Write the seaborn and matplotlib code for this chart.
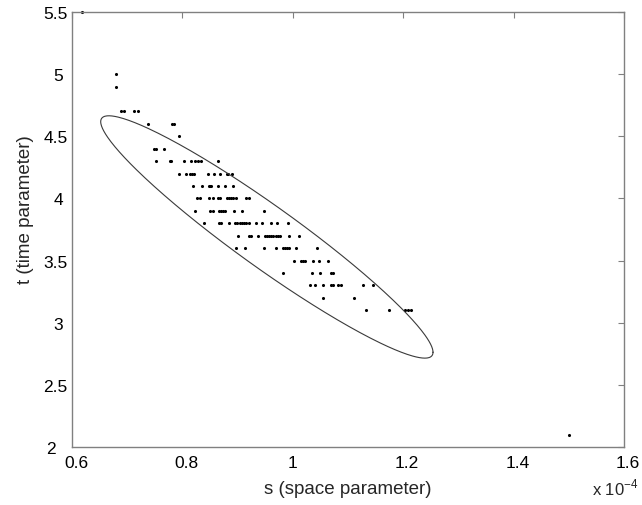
import numpy as np
import pandas as pd
import seaborn as sns
import matplotlib
matplotlib.use("Agg")
import matplotlib.pyplot as plt
from matplotlib.transforms import ScaledTranslation

# s values are in units of 1e-4 (axis multiplier shown as text)
s_vals = [0.619,
          0.680, 0.680,
          0.689, 0.694, 0.712, 0.720,
          0.737, 0.781, 0.785,
          0.794,
          0.749, 0.753, 0.767,
          0.752, 0.778, 0.780, 0.802, 0.815, 0.822, 0.828, 0.833, 0.865,
          0.793, 0.807, 0.814, 0.818, 0.821, 0.846, 0.857, 0.869, 0.880, 0.883, 0.890,
          0.820, 0.835, 0.848, 0.850, 0.852, 0.865, 0.877, 0.892,
          0.827, 0.832, 0.848, 0.855, 0.865, 0.869, 0.880, 0.884, 0.888, 0.892, 0.898, 0.915, 0.920,
          0.822, 0.850, 0.855, 0.866, 0.870, 0.874, 0.878, 0.894, 0.908, 0.948,
          0.840, 0.867, 0.870, 0.885, 0.895, 0.899, 0.904, 0.908, 0.912, 0.916, 0.920, 0.933, 0.945, 0.960, 0.972, 0.991,
          0.900, 0.921, 0.924, 0.937, 0.949, 0.953, 0.957, 0.961, 0.965, 0.969, 0.973, 0.977, 0.993, 1.012,
          0.898, 0.913, 0.948, 0.970, 0.983, 0.986, 0.990, 0.994, 1.005, 1.043,
          1.002, 1.015, 1.019, 1.022, 1.036, 1.047, 1.063,
          0.982, 1.035, 1.050, 1.070, 1.072,
          1.032, 1.041, 1.055, 1.069, 1.073, 1.082, 1.087, 1.128, 1.145,
          1.055, 1.110,
          1.133, 1.175, 1.203, 1.209, 1.215,
          1.500]

t_vals = [5.5,
          5.0, 4.9,
          4.7, 4.7, 4.7, 4.7,
          4.6, 4.6, 4.6,
          4.5,
          4.4, 4.4, 4.4,
          4.3, 4.3, 4.3, 4.3, 4.3, 4.3, 4.3, 4.3, 4.3,
          4.2, 4.2, 4.2, 4.2, 4.2, 4.2, 4.2, 4.2, 4.2, 4.2, 4.2,
          4.1, 4.1, 4.1, 4.1, 4.1, 4.1, 4.1, 4.1,
          4.0, 4.0, 4.0, 4.0, 4.0, 4.0, 4.0, 4.0, 4.0, 4.0, 4.0, 4.0, 4.0,
          3.9, 3.9, 3.9, 3.9, 3.9, 3.9, 3.9, 3.9, 3.9, 3.9,
          3.8, 3.8, 3.8, 3.8, 3.8, 3.8, 3.8, 3.8, 3.8, 3.8, 3.8, 3.8, 3.8, 3.8, 3.8, 3.8,
          3.7, 3.7, 3.7, 3.7, 3.7, 3.7, 3.7, 3.7, 3.7, 3.7, 3.7, 3.7, 3.7, 3.7,
          3.6, 3.6, 3.6, 3.6, 3.6, 3.6, 3.6, 3.6, 3.6, 3.6,
          3.5, 3.5, 3.5, 3.5, 3.5, 3.5, 3.5,
          3.4, 3.4, 3.4, 3.4, 3.4,
          3.3, 3.3, 3.3, 3.3, 3.3, 3.3, 3.3, 3.3, 3.3,
          3.2, 3.2,
          3.1, 3.1, 3.1, 3.1, 3.1,
          2.1]

# confidence ellipse: centre, spreads, correlation
ell_center = (0.953, 3.69)
ell_sd = (0.301, 0.975)
ell_rho = -0.951

x_ticks = [0.6, 0.8, 1.0, 1.2, 1.4, 1.6]
x_ticklabels = ["0.6", "0.8", "1", "1.2", "1.4", "1.6"]
y_ticks = [2, 2.5, 3, 3.5, 4, 4.5, 5, 5.5]
y_ticklabels = ["2", "2.5", "3", "3.5", "4", "4.5", "5", "5.5"]

df = pd.DataFrame({"s": s_vals, "t": t_vals})

sns.set_style("white")
plt.rcParams['font.family'] = ['Liberation Sans', 'DejaVu Sans']

fig = plt.figure(figsize=(6.42, 5.06), dpi=100)
ax = fig.add_axes([72 / 642, 1 - 448 / 506, 552 / 642, 435 / 506])

sns.scatterplot(data=df, x="s", y="t", ax=ax, color="black", s=5,
                linewidth=0, marker="o", clip_on=False)

# ellipse outline
th = np.linspace(0, 2 * np.pi, 400)
es = ell_center[0] + ell_sd[0] * np.cos(th)
et = ell_center[1] + ell_sd[1] * (ell_rho * np.cos(th) + np.sqrt(1 - ell_rho ** 2) * np.sin(th))
ax.plot(es, et, color="#3a3a3a", lw=0.8)

ax.set_xlim(0.6, 1.6)
ax.set_ylim(2, 5.5)
ax.set_xticks(x_ticks)
ax.set_xticklabels(x_ticklabels)
ax.set_yticks(y_ticks)
ax.set_yticklabels(y_ticklabels)
ax.tick_params(direction="in", top=True, right=True, length=4, width=0.8,
               colors="#808080", labelcolor="black", labelsize=12.5)
ax.tick_params(axis="x", pad=6)
ax.tick_params(axis="y", pad=3)

# MATLAB-ish label nudges: decimals sit a bit right, integers a bit left
for lab in ax.get_xticklabels():
    dx = 4 if "." in lab.get_text() else 0
    lab.set_transform(lab.get_transform() + ScaledTranslation(dx / 100, 0, fig.dpi_scale_trans))
for lab in ax.get_yticklabels():
    txt = lab.get_text()
    dx = 0 if "." in txt else -5
    if txt == "2":
        dx = -12
    lab.set_transform(lab.get_transform() + ScaledTranslation(dx / 100, 0, fig.dpi_scale_trans))

for sp in ax.spines.values():
    sp.set_visible(True)
    sp.set_color("#808080")
    sp.set_linewidth(1.0)

ax.set_xlabel("s (space parameter)", fontsize=13.5)
ax.set_ylabel("t (time parameter)", fontsize=13.5)
ax.xaxis.set_label_coords(0.5, -0.075)
ax.yaxis.set_label_coords(-0.068, 0.547)

fig.text(639 / 642, 1 - 495 / 506, r"x 10$^{\mathregular{-4}}$", fontsize=12, ha="right", va="baseline")

fig.savefig("out.png", dpi=100, facecolor="white")
